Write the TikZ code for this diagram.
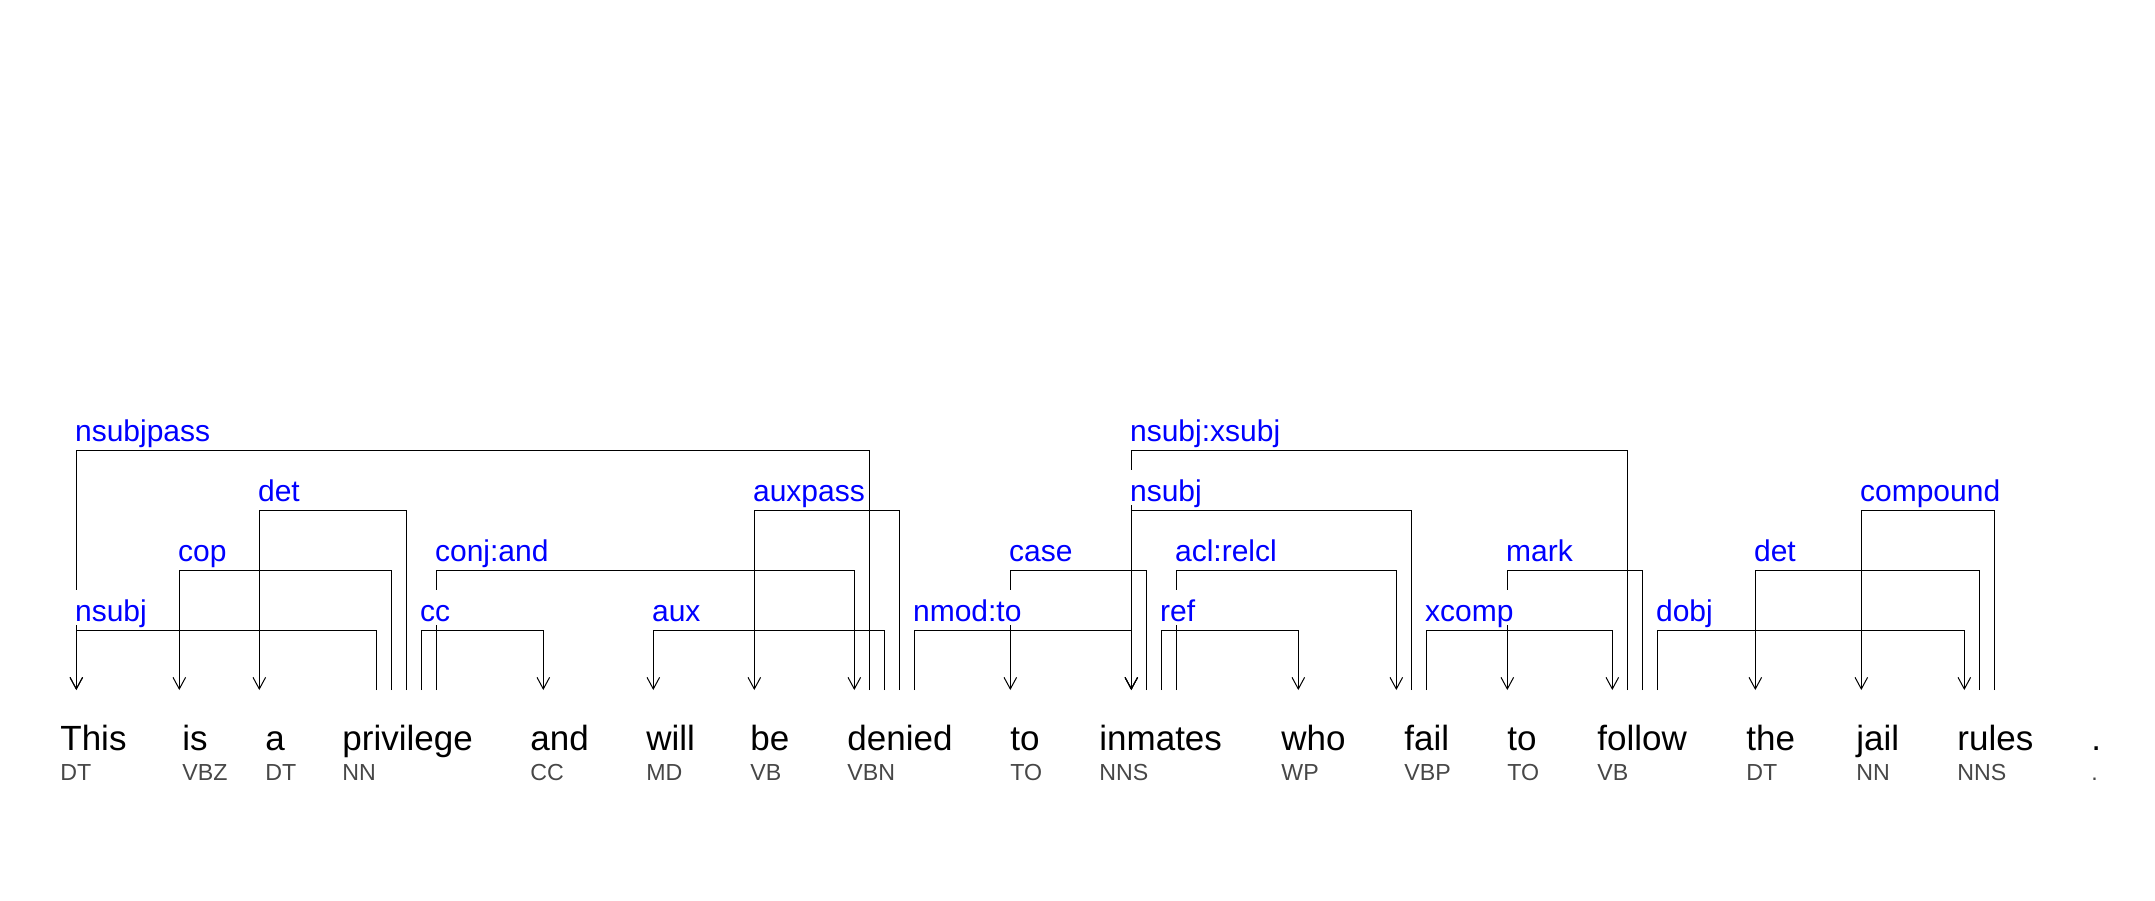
\documentclass[tikz,border=0pt]{standalone}
\usepackage{fontspec}
\setmainfont{Liberation Sans}
\usetikzlibrary{arrows.meta}

\begin{document}
\begin{tikzpicture}
[x=0.5pt, y=-0.5pt,
% STYLES
% The word style is used to draw the tokens of the sentence
word/.style={anchor=base west, inner sep=0pt, font=\fontsize{17.5pt}{20pt}\selectfont},
% The postag style is used to draw the tag under each token
postag/.style={anchor=base west, inner sep=0pt, text=black!72, font=\fontsize{11.6pt}{13pt}\selectfont},
% The deplabel style is used to draw the name of each dependency
deplabel/.style={anchor=base west, fill=white, inner xsep=1pt, inner ysep=0pt, text height=15.5pt, text depth=2pt, xshift=-1.8pt, yshift=4.5pt, text=blue, font=\fontsize{15pt}{18pt}\selectfont},
% The deplink style is used to draw the dependencies
deplink/.style={draw=black, line width=0.5pt, -{Straight Barb[length=5.8pt,width=6.3pt]}}]
\useasboundingbox (0,0) rectangle (2155,900);
% Draw words
\node[word] (this) at (60,750) {This};
\node[postag] (this-pos) at ([yshift=-15pt]this.base west) {DT};
\node[word] (is) at (182,750) {is};
\node[postag] (is-pos) at ([yshift=-15pt]is.base west) {VBZ};
\node[word] (a) at (265,750) {a};
\node[postag] (a-pos) at ([yshift=-15pt]a.base west) {DT};
\node[word] (privilege) at (342,750) {privilege};
\node[postag] (privilege-pos) at ([yshift=-15pt]privilege.base west) {NN};
\node[word] (and) at (530,750) {and};
\node[postag] (and-pos) at ([yshift=-15pt]and.base west) {CC};
\node[word] (will) at (646,750) {will};
\node[postag] (will-pos) at ([yshift=-15pt]will.base west) {MD};
\node[word] (be) at (750,750) {be};
\node[postag] (be-pos) at ([yshift=-15pt]be.base west) {VB};
\node[word] (denied) at (847,750) {denied};
\node[postag] (denied-pos) at ([yshift=-15pt]denied.base west) {VBN};
\node[word] (to1) at (1010,750) {to};
\node[postag] (to1-pos) at ([yshift=-15pt]to1.base west) {TO};
\node[word] (inmates) at (1099,750) {inmates};
\node[postag] (inmates-pos) at ([yshift=-15pt]inmates.base west) {NNS};
\node[word] (who) at (1281,750) {who};
\node[postag] (who-pos) at ([yshift=-15pt]who.base west) {WP};
\node[word] (fail) at (1404,750) {fail};
\node[postag] (fail-pos) at ([yshift=-15pt]fail.base west) {VBP};
\node[word] (to2) at (1507,750) {to};
\node[postag] (to2-pos) at ([yshift=-15pt]to2.base west) {TO};
\node[word] (follow) at (1597,750) {follow};
\node[postag] (follow-pos) at ([yshift=-15pt]follow.base west) {VB};
\node[word] (the) at (1746,750) {the};
\node[postag] (the-pos) at ([yshift=-15pt]the.base west) {DT};
\node[word] (jail) at (1856,750) {jail};
\node[postag] (jail-pos) at ([yshift=-15pt]jail.base west) {NN};
\node[word] (rules) at (1957,750) {rules};
\node[postag] (rules-pos) at ([yshift=-15pt]rules.base west) {NNS};
\node[word] (period) at (2091,750) {.};
\node[postag] (period-pos) at ([yshift=-15pt]period.base west) {.};
%%%%%%%%%%%%%%%
% Ports above the words
\coordinate (this-in) at (76.3,690);
\coordinate (is-in) at (179.3,690);
\coordinate (a-in) at (259.3,690);
\coordinate (privilege-1) at (376.3,690);
\coordinate (privilege-2) at (391.3,690);
\coordinate (privilege-3) at (406.3,690);
\coordinate (privilege-4) at (421.3,690);
\coordinate (privilege-5) at (436.3,690);
\coordinate (and-in) at (543.3,690);
\coordinate (will-in) at (653.3,690);
\coordinate (be-in) at (754.3,690);
\coordinate (denied-in) at (854.3,690);
\coordinate (denied-1) at (869.3,690);
\coordinate (denied-2) at (884.3,690);
\coordinate (denied-3) at (899.3,690);
\coordinate (denied-4) at (914.3,690);
\coordinate (to1-in) at (1010.3,690);
\coordinate (inmates-in) at (1131.3,690);
\coordinate (inmates-1) at (1146.3,690);
\coordinate (inmates-2) at (1161.3,690);
\coordinate (inmates-3) at (1176.3,690);
\coordinate (who-in) at (1298.3,690);
\coordinate (fail-in) at (1396.3,690);
\coordinate (fail-1) at (1411.3,690);
\coordinate (fail-2) at (1426.3,690);
\coordinate (to2-in) at (1507.3,690);
\coordinate (follow-in) at (1612.3,690);
\coordinate (follow-1) at (1627.3,690);
\coordinate (follow-2) at (1642.3,690);
\coordinate (follow-3) at (1657.3,690);
\coordinate (the-in) at (1755.3,690);
\coordinate (jail-in) at (1861.3,690);
\coordinate (rules-in) at (1964.3,690);
\coordinate (rules-1) at (1979.3,690);
\coordinate (rules-2) at (1994.3,690);
% Levels of the links
\coordinate (lvl1) at (0,630);
\coordinate (lvl2) at (0,570);
\coordinate (lvl3) at (0,510);
\coordinate (lvl4) at (0,450);
%%%%%%%%%%%%%%%
% Draw the links between words
\draw[deplink] (privilege-1) -- (privilege-1 |- lvl1) -| (this-in);
\draw[deplink] (privilege-2) -- (privilege-2 |- lvl2) -| (is-in);
\draw[deplink] (privilege-3) -- (privilege-3 |- lvl3) -| (a-in);
\draw[deplink] (privilege-4) -- (privilege-4 |- lvl1) -| (and-in);
\draw[deplink] (privilege-5) -- (privilege-5 |- lvl2) -| (denied-in);
\draw[deplink] (denied-1) -- (denied-1 |- lvl4) -| (this-in);
\draw[deplink] (denied-2) -- (denied-2 |- lvl1) -| (will-in);
\draw[deplink] (denied-3) -- (denied-3 |- lvl3) -| (be-in);
\draw[deplink] (denied-4) -- (denied-4 |- lvl1) -| (inmates-in);
\draw[deplink] (inmates-1) -- (inmates-1 |- lvl2) -| (to1-in);
\draw[deplink] (inmates-2) -- (inmates-2 |- lvl1) -| (who-in);
\draw[deplink] (inmates-3) -- (inmates-3 |- lvl2) -| (fail-in);
\draw[deplink] (fail-1) -- (fail-1 |- lvl3) -| (inmates-in);
\draw[deplink] (fail-2) -- (fail-2 |- lvl1) -| (follow-in);
\draw[deplink] (follow-1) -- (follow-1 |- lvl4) -| (inmates-in);
\draw[deplink] (follow-2) -- (follow-2 |- lvl2) -| (to2-in);
\draw[deplink] (follow-3) -- (follow-3 |- lvl1) -| (rules-in);
\draw[deplink] (rules-1) -- (rules-1 |- lvl2) -| (the-in);
\draw[deplink] (rules-2) -- (rules-2 |- lvl3) -| (jail-in);
% Draw the names of the links
\node[deplabel] at (this-in |- lvl1) {nsubj};
\node[deplabel] at (is-in |- lvl2) {cop};
\node[deplabel] at (a-in |- lvl3) {det};
\node[deplabel] at (privilege-4 |- lvl1) {cc};
\node[deplabel] at (privilege-5 |- lvl2) {conj:and};
\node[deplabel] at (this-in |- lvl4) {nsubjpass};
\node[deplabel] at (will-in |- lvl1) {aux};
\node[deplabel] at (be-in |- lvl3) {auxpass};
\node[deplabel] at (denied-4 |- lvl1) {nmod:to};
\node[deplabel] at (to1-in |- lvl2) {case};
\node[deplabel] at (inmates-2 |- lvl1) {ref};
\node[deplabel] at (inmates-3 |- lvl2) {acl:relcl};
\node[deplabel] at (inmates-in |- lvl3) {nsubj};
\node[deplabel] at (fail-2 |- lvl1) {xcomp};
\node[deplabel] at (inmates-in |- lvl4) {nsubj:xsubj};
\node[deplabel] at (to2-in |- lvl2) {mark};
\node[deplabel] at (follow-3 |- lvl1) {dobj};
\node[deplabel] at (the-in |- lvl2) {det};
\node[deplabel] at (jail-in |- lvl3) {compound};
\end{tikzpicture}
\end{document}
